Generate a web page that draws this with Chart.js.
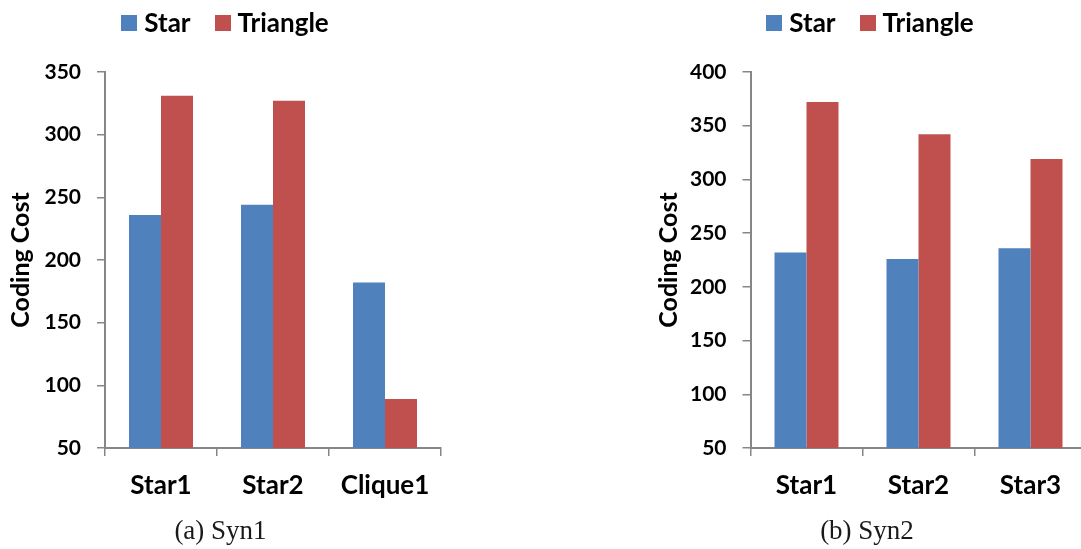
<!DOCTYPE html>
<html>
<head>
<meta charset="utf-8">
<script src="https://cdn.jsdelivr.net/npm/chart.js@4"></script>
<style>
  html, body { margin: 0; padding: 0; overflow: hidden; background: #fff; width: 1081px; height: 549px; }
  canvas { position: absolute; top: 0; }
  #syn1 { left: 0; }
  #syn2 { left: 650px; }
  .caption { position: absolute; top: 515px; transform: translateX(-50%); white-space: nowrap;
             font-family: "Liberation Serif", serif; font-size: 27px; color: #1a1a1a; }
</style>
</head>
<body>
<canvas id="syn1" width="450" height="549"></canvas>
<canvas id="syn2" width="440" height="549"></canvas>
<div class="caption" style="left:220.5px">(a) Syn1</div>
<div class="caption" style="left:867px">(b) Syn2</div>
<script>
// Series names and colours
const seriesNames = ['Star', 'Triangle'];
const seriesColors = ['#4F81BD', '#C0504D'];

// Syn1 data
const syn1Categories = ['Star1', 'Star2', 'Clique1'];
const syn1Star = [236, 244, 182];
const syn1Triangle = [331, 327, 89];
const syn1Range = [50, 350];

// Syn2 data
const syn2Categories = ['Star1', 'Star2', 'Star3'];
const syn2Star = [232, 226, 236];
const syn2Triangle = [372, 342, 319];
const syn2Range = [50, 400];

const tickStep = 50;
const yTitle = 'Coding Cost';

const FONT = 'Lato, "Open Sans", sans-serif';
const AXIS_GREY = '#868686';

// Legend row drawn above the plot: square swatch followed by the series name
const boxLegend = {
  id: 'boxLegend',
  afterDraw(chart, args, opts) {
    const ctx = chart.ctx;
    ctx.save();
    ctx.font = opts.font;
    const items = chart.data.datasets.map(ds => ({
      text: ds.label, color: ds.backgroundColor, w: ctx.measureText(ds.label).width
    }));
    const total = items.reduce((s, it) => s + opts.box + opts.textGap + it.w, 0) + opts.itemGap * (items.length - 1);
    let x = opts.centerX - total / 2;
    ctx.textBaseline = 'middle';
    items.forEach(it => {
      ctx.fillStyle = it.color;
      ctx.fillRect(Math.round(x), opts.y - opts.box / 2, opts.box, opts.box);
      x += opts.box + opts.textGap;
      ctx.fillStyle = '#000';
      ctx.fillText(it.text, x, opts.y + 1);
      x += it.w + opts.itemGap;
    });
    ctx.restore();
  }
};

function makeChart(id, categories, starVals, triVals, range, cfg) {
  return new Chart(document.getElementById(id), {
    type: 'bar',
    data: {
      labels: categories,
      datasets: [
        { label: seriesNames[0], data: starVals, backgroundColor: seriesColors[0] },
        { label: seriesNames[1], data: triVals, backgroundColor: seriesColors[1] }
      ]
    },
    options: {
      responsive: false,
      animation: false,
      layout: { padding: { top: 72, right: cfg.padRight, left: 0, bottom: 0 } },
      datasets: { bar: { categoryPercentage: 0.5714, barPercentage: 1.0 } },
      plugins: {
        legend: { display: false },
        tooltip: { enabled: false },
        boxLegend: { font: 'bold 26px ' + FONT, box: 16, textGap: 7, itemGap: 24, centerX: cfg.legendX, y: 23 }
      },
      scales: {
        x: {
          grid: { display: true, drawOnChartArea: false, drawTicks: true, tickLength: 8, color: AXIS_GREY, lineWidth: 1.5, offset: true },
          border: { display: true, color: AXIS_GREY, width: 2 },
          ticks: { color: '#000', font: { family: FONT, size: 26, weight: 'bold' }, padding: 14 },
          afterFit: s => { s.height = 101; }
        },
        y: {
          min: range[0],
          max: range[1],
          grid: { display: true, drawOnChartArea: false, drawTicks: true, tickLength: 8, color: AXIS_GREY, lineWidth: 1.5 },
          border: { display: true, color: AXIS_GREY, width: 2 },
          ticks: { stepSize: tickStep, color: '#000', font: { family: FONT, size: 21, weight: 'bold' }, padding: 16 },
          title: { display: true, text: yTitle, color: '#000', font: { family: FONT, size: 25, weight: 'bold' }, padding: { top: cfg.titlePad, bottom: 0 } },
          afterFit: s => { s.width = cfg.axisWidth; }
        }
      }
    },
    plugins: [boxLegend]
  });
}

makeChart('syn1', syn1Categories, syn1Star, syn1Triangle, syn1Range,
  { padRight: 9, legendX: 225, titlePad: 6, axisWidth: 105 });
makeChart('syn2', syn2Categories, syn2Star, syn2Triangle, syn2Range,
  { padRight: 3.5, legendX: 220, titlePad: 4, axisWidth: 100.5 });
</script>
</body>
</html>
